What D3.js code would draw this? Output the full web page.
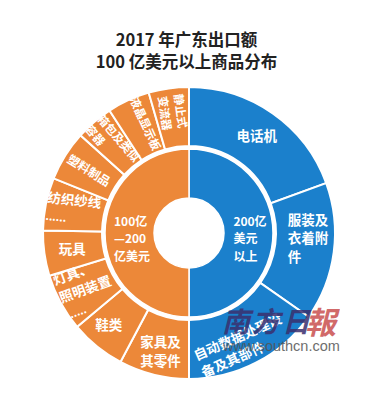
<!DOCTYPE html>
<html>
<head>
<meta charset="utf-8">
<script src="https://cdn.jsdelivr.net/npm/d3@7"></script>
<style>
  body { margin: 0; background: #fff; }
  svg { display: block; font-family: "Noto Sans CJK SC", "Noto Sans", sans-serif; }
</style>
</head>
<body>
<svg width="369" height="400"></svg>
<script>
// Set up SVG canvas
const width = 369, height = 400;
const svg = d3.select("svg");
const cx = 189, cy = 233;

// Title lines
const titleLines = ["2017 年广东出口额", "100 亿美元以上商品分布"];

// Inner ring: export bands
const groupNames = ["200亿美元以上", "100亿—200亿美元"];
const groupLabels = [["200亿", "美元", "以上"], ["100亿", "—200", "亿美元"]];

// Outer ring: goods, clockwise from 12 o'clock (share of the ring)
const goodsNames = ["电话机", "服装及衣着附件", "自动数据处理设备及其部件",
  "家具及其零件", "鞋类", "灯具、照明装置", "玩具", "纺织纱线", "塑料制品",
  "箱包及类似容器", "液晶显示板", "静止式变流器"];
const goodsShares = [70, 55, 55, 28, 22, 23, 18, 21, 20, 15, 17, 16];
const goodsGroup = [0, 0, 0, 1, 1, 1, 1, 1, 1, 1, 1, 1];
const goodsLabels = [["电话机"], ["服装及", "衣着附", "件"], ["自动数据处理设", "备及其部件"],
  ["家具及", "其零件"], ["鞋类"], ["灯具、", "照明装置", "......"], ["玩具"],
  ["纺织纱线", "......"], ["塑料制品"], ["箱包及类似", "容器"], ["液晶显示板"], ["静止式", "变流器"]];

const colors = ["#1B80CC", "#EC8839"];

// Title
svg.append("g")
  .selectAll("text")
  .data(titleLines)
  .enter()
  .append("text")
  .attr("x", width / 2 + 2)
  .attr("y", (d, i) => 46 + i * 22)
  .attr("text-anchor", "middle")
  .attr("font-size", 16.5)
  .attr("font-weight", "bold")
  .attr("fill", "#222")
  .text(d => d);

const chart = svg.append("g").attr("transform", `translate(${cx},${cy})`);

// Inner ring from group totals
const groupTotals = groupNames.map((g, gi) => d3.sum(goodsShares.filter((v, i) => goodsGroup[i] === gi)));
const pie = d3.pie().sort(null).value(d => d);
const innerArcs = pie(groupTotals);
const outerArcs = pie(goodsShares);

const innerArc = d3.arc().innerRadius(35).outerRadius(84);
const outerArc = d3.arc().innerRadius(87).outerRadius(146);

chart.append("g")
  .selectAll("path")
  .data(innerArcs)
  .enter()
  .append("path")
  .attr("d", innerArc)
  .attr("fill", (d, i) => colors[i])
  .attr("stroke", "#fff")
  .attr("stroke-width", 1.5);

chart.append("g")
  .selectAll("path")
  .data(outerArcs)
  .enter()
  .append("path")
  .attr("d", outerArc)
  .attr("fill", (d, i) => colors[goodsGroup[i]])
  .attr("stroke", "#fff")
  .attr("stroke-width", 2);

// Left-aligned text block centred on a point
function textBlock(g, lines, fs, lh) {
  const t = g.append("text")
    .attr("fill", "#fff")
    .attr("font-size", fs)
    .attr("font-weight", "bold");
  lines.forEach((l, i) => {
    t.append("tspan")
      .attr("x", 0)
      .attr("y", (i - (lines.length - 1) / 2) * lh)
      .attr("dy", "0.36em")
      .attr("font-size", l.startsWith(".") ? fs * 0.8 : fs)
      .text(l);
  });
  let w = 0;
  t.selectAll("tspan").each(function () { w = Math.max(w, this.getComputedTextLength()); });
  t.selectAll("tspan").attr("x", -w / 2);
}

// Inner labels
const innerLabelArc = d3.arc().innerRadius(59).outerRadius(59);
innerArcs.forEach((d, i) => {
  const [x, y] = innerLabelArc.centroid(d);
  const g = chart.append("g").attr("transform", `translate(${x + 2},${y + 6})`);
  textBlock(g, groupLabels[i], 12, 17.5);
});

// Outer labels
const labelArc = d3.arc().innerRadius(118).outerRadius(118);
const rotTweak = { 5: -20, 7: 6, 2: -24 };
const shift = { 1: [2, -10], 2: [-2, 8], 3: [0, 4], 4: [-6, 0], 10: [5, -2], 11: [0, -4] };
outerArcs.forEach((d, i) => {
  let [x, y] = labelArc.centroid(d);
  if (shift[i]) { x += shift[i][0]; y += shift[i][1]; }
  const mid = (d.startAngle + d.endAngle) / 2 * 180 / Math.PI;
  let rot = mid > 285 ? mid - 270 : 0;
  if (rotTweak[i] !== undefined) rot = rotTweak[i];
  const fs = rot > 45 ? 11.5 : rot > 25 ? 12 : 13.5;
  const g = chart.append("g").attr("transform", `translate(${x},${y}) rotate(${rot})`);
  textBlock(g, goodsLabels[i], fs, fs * 1.38);
});

// Newspaper watermark
const wm = svg.append("g").attr("opacity", 0.85);
wm.append("text")
  .attr("x", 222).attr("y", 332)
  .attr("font-size", 28)
  .attr("font-weight", "bold")
  .attr("font-style", "italic")
  .attr("letter-spacing", 2)
  .attr("fill", "#3a2f6e")
  .text("南方日");
wm.append("text")
  .attr("x", 305).attr("y", 334)
  .attr("font-size", 31)
  .attr("font-weight", "bold")
  .attr("font-style", "italic")
  .attr("fill", "#c9504f")
  .text("報");
wm.append("text")
  .attr("x", 223).attr("y", 351)
  .attr("font-size", 14.5)
  .attr("font-family", "Liberation Sans, sans-serif")
  .attr("fill", "#555")
  .text("www.southcn.com");
</script>
</body>
</html>
